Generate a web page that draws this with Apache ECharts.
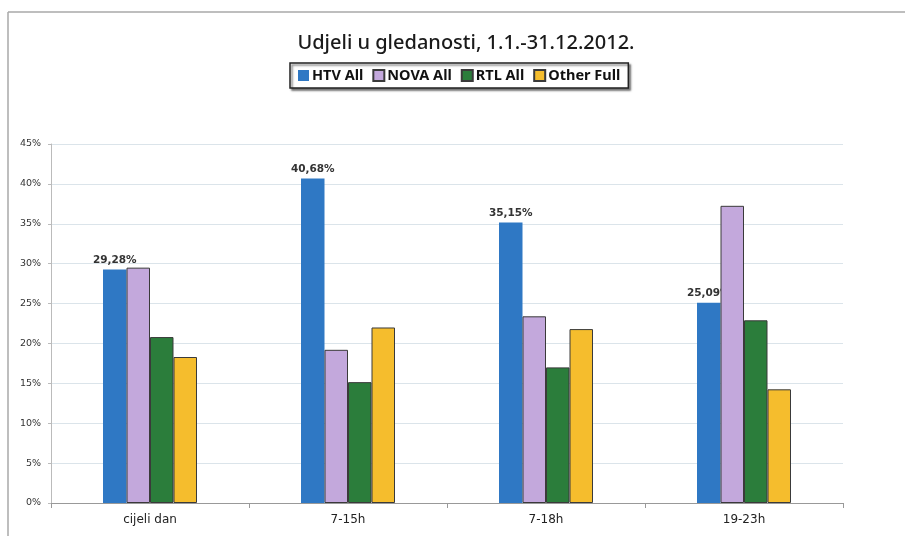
<!DOCTYPE html>
<html>
<head>
<meta charset="utf-8">
<script src="https://cdn.jsdelivr.net/npm/echarts@6/dist/echarts.min.js"></script>
<style>
html,body{margin:0;padding:0;background:#fff;}
#chart{width:905px;height:536px;}
</style>
</head>
<body>
<div id="chart"></div>
<script>
// kategorije i udjeli (%)
var categories = ['cijeli dan', '7-15h', '7-18h', '19-23h'];
var seriesNames = ['HTV All', 'NOVA All', 'RTL All', 'Other Full'];
var htv = [29.28, 40.68, 35.15, 25.09];
var nova = [29.5, 19.2, 23.4, 37.25];
var rtl = [20.8, 15.15, 17.0, 22.9];
var other = [18.3, 22.0, 21.8, 14.25];
var yTicks = [0, 5, 10, 15, 20, 25, 30, 35, 40, 45];

var colors = ['#2f78c4', '#c3a8dc', '#2b7d3b', '#f5bd2d'];

function pct(v){
	return v.toFixed(2).replace('.', ',') + '%';
}

var myChart = echarts.init(document.getElementById('chart'));

function barSeries(name, data, color, withBorder, withLabel){
	return {
		name: name,
		type: 'bar',
		barWidth: 23.5,
		barGap: '0%',
		data: data,
		itemStyle: {
			color: color,
			borderColor: withBorder ? '#3a3a3a' : color,
			borderWidth: withBorder ? 1 : 0
		},
		label: {
			show: withLabel,
			position: 'top',
			distance: 4,
			fontFamily: 'DejaVu Sans',
			fontWeight: 'bold',
			fontSize: 10.5,
			color: '#333',
			formatter: function(p){ return pct(p.value); }
		},
		z: withLabel ? 1 : 2
	};
}

var option = {
	backgroundColor: '#fff',
	animation: false,
	title: {
		text: 'Udjeli u gledanosti, 1.1.-31.12.2012.',
		left: 461,
		textAlign: 'center',
		top: 28,
		textStyle: {
			fontFamily: 'Noto Sans',
			fontSize: 20,
			fontWeight: 500,
			color: '#1a1a1a'
		}
	},
	legend: {
		data: seriesNames,
		top: 63,
		left: 290,
		padding: [5, 8, 5, 8],
		itemGap: 9,
		itemWidth: 11,
		itemHeight: 11,
		borderColor: '#222',
		borderWidth: 1.5,
		backgroundColor: '#fff',
		shadowColor: 'rgba(0,0,0,0.5)',
		shadowOffsetX: 2,
		shadowOffsetY: 2,
		shadowBlur: 2,
		icon: 'rect',
		textStyle: {
			fontFamily: 'Noto Sans',
			fontWeight: 'bold',
			fontSize: 14.5,
			color: '#111',
			padding: [0, 0, 0, -2]
		}
	},
	grid: {
		left: 51,
		right: 62,
		top: 144,
		bottom: 33
	},
	xAxis: {
		type: 'category',
		data: categories,
		axisLine: { lineStyle: { color: '#999' } },
		axisTick: { show: true, length: 5, lineStyle: { color: '#999' } },
		axisLabel: {
			fontFamily: 'DejaVu Sans',
			fontSize: 12,
			color: '#222',
			margin: 11
		}
	},
	yAxis: {
		type: 'value',
		min: 0,
		max: 45,
		interval: 5,
		axisLine: { show: true, lineStyle: { color: '#bbb' } },
		axisTick: { show: true, length: 3, lineStyle: { color: '#bbb' } },
		splitLine: { lineStyle: { color: '#dbe4ea' } },
		axisLabel: {
			fontFamily: 'DejaVu Sans',
			fontSize: 9.5,
			color: '#333',
			margin: 10,
			formatter: function(v){ return yTicks.indexOf(v) >= 0 ? v + '%' : ''; }
		}
	},
	series: [
		barSeries(seriesNames[0], htv, colors[0], false, true),
		barSeries(seriesNames[1], nova, colors[1], true, false),
		barSeries(seriesNames[2], rtl, colors[2], true, false),
		barSeries(seriesNames[3], other, colors[3], true, false)
	],
	graphic: [
		{ type: 'line', shape: { x1: 8, y1: 12, x2: 905, y2: 12 }, style: { stroke: '#a8a8a8', lineWidth: 1.5 } },
		{ type: 'line', shape: { x1: 8, y1: 12, x2: 8, y2: 536 }, style: { stroke: '#a8a8a8', lineWidth: 1.5 } }
	]
};
myChart.setOption(option);
</script>
</body>
</html>
